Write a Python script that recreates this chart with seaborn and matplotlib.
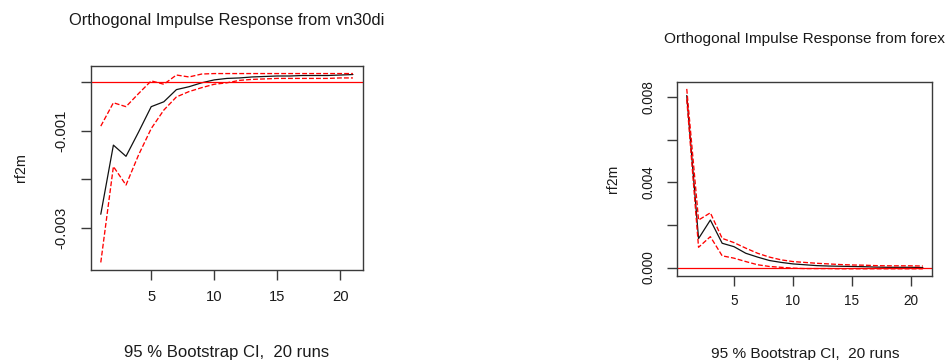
import numpy as np
import pandas as pd
import matplotlib
matplotlib.use("Agg")
import matplotlib.pyplot as plt
import seaborn as sns

# Forecast horizon (steps ahead)
horizon = list(range(1, 22))

# Response of rf2m to an orthogonal shock in vn30di
irf_vn30di = [-0.00272, -0.00130, -0.00153, -0.00103, -0.00051, -0.00041, -0.00016,
              -0.00010, -0.00002, 0.00004, 0.00007, 0.00008, 0.00010, 0.00011,
              0.00012, 0.00012, 0.00013, 0.00013, 0.00013, 0.00014, 0.00015]
upper_vn30di = [-0.00091, -0.00043, -0.00051, -0.00024, 0.00002, -0.00005, 0.00014,
                0.00010, 0.00016, 0.00017, 0.00017, 0.00017, 0.00017, 0.00017,
                0.00017, 0.00017, 0.00017, 0.00017, 0.00017, 0.00017, 0.00017]
lower_vn30di = [-0.00371, -0.00174, -0.00212, -0.00150, -0.00096, -0.00058, -0.00031,
                -0.00020, -0.00012, -0.00005, -0.00002, 0.00003, 0.00005, 0.00006,
                0.00007, 0.00007, 0.00007, 0.00007, 0.00007, 0.00008, 0.00008]

# Response of rf2m to an orthogonal shock in forex
irf_forex = [0.00808, 0.00136, 0.00223, 0.00114, 0.00098, 0.00067, 0.00049,
             0.00033, 0.00024, 0.00017, 0.00013, 0.00009, 0.00007, 0.00006,
             0.00005, 0.00004, 0.00002, 0.00001, 0.00001, 0.00001, 0.00000]
upper_forex = [0.00839, 0.00223, 0.00257, 0.00137, 0.00117, 0.00091, 0.00067,
               0.00049, 0.00036, 0.00028, 0.00024, 0.00020, 0.00017, 0.00014,
               0.00012, 0.00011, 0.00009, 0.00008, 0.00008, 0.00008, 0.00007]
lower_forex = [0.00790, 0.00095, 0.00145, 0.00055, 0.00044, 0.00028, 0.00013,
               0.00005, 0.00001, -0.00003, -0.00005, -0.00005, -0.00005, -0.00006,
               -0.00006, -0.00006, -0.00006, -0.00006, -0.00006, -0.00006, -0.00006]

xticks = [5, 10, 15, 20]
yticks_vn30di = [0.0, -0.001, -0.002, -0.003]
yticklabels_vn30di = ["", "-0.001", "", "-0.003"]
yticks_forex = [0.0, 0.002, 0.004, 0.006, 0.008]
yticklabels_forex = ["0.000", "", "0.004", "", "0.008"]

titles = ["Orthogonal Impulse Response from vn30di",
          "Orthogonal Impulse Response from forex"]
response_name = "rf2m"
ci_text = "95 % Bootstrap CI,  20 runs"

sns.set_theme(style="white")
plt.rcParams["font.family"] = ["Liberation Sans", "DejaVu Sans"]

W, H = 946, 360
fig = plt.figure(figsize=(W / 100, H / 100), dpi=100)


def px_axes(left, top, right, bottom):
    return fig.add_axes([left / W, 1 - bottom / H, (right - left) / W, (bottom - top) / H])


def draw_panel(ax, irf, upper, lower, yticks, yticklabels, scale, xpad):
    df = pd.DataFrame({"horizon": horizon, "irf": irf, "upper": upper, "lower": lower})
    sns.lineplot(data=df, x="horizon", y="irf", ax=ax, color="#111111", lw=0.9)
    for col in ["upper", "lower"]:
        sns.lineplot(data=df, x="horizon", y=col, ax=ax, color="red", lw=0.95,
                     dashes=(4.5, 3), linestyle="--")
    ax.axhline(0, color="red", lw=0.9)
    lo = min(lower + irf + upper)
    hi = max(lower + irf + upper)
    pad = 0.04 * (hi - lo)
    ax.set_ylim(lo - pad, hi + pad)
    ax.set_xlim(1 - 0.04 * 20, 21 + 0.04 * 20)
    ax.set_xticks(xticks)
    ax.set_yticks(yticks)
    ax.set_yticklabels(yticklabels)
    ax.set_xlabel("")
    ax.set_ylabel("")
    for s in ax.spines.values():
        s.set_color("#3a3a3a")
        s.set_linewidth(1.0)
    ax.tick_params(axis="both", direction="out", length=7.2, width=1.0,
                   color="#3a3a3a", labelcolor="#1a1a1a", labelsize=10.6 * scale,
                   bottom=True, left=True)
    ax.tick_params(axis="x", pad=xpad)
    ax.tick_params(axis="y", pad=9 * scale, labelrotation=90)
    for lab in ax.get_yticklabels():
        lab.set_va("center")


# Left panel: vn30di shock
ax1 = px_axes(90.7, 66, 363, 270)
draw_panel(ax1, irf_vn30di, upper_vn30di, lower_vn30di,
           yticks_vn30di, yticklabels_vn30di, 1.0, 7.0)
# Right panel: forex shock
ax2 = px_axes(677.3, 81.7, 932.3, 276)
draw_panel(ax2, irf_forex, upper_forex, lower_forex,
           yticks_forex, yticklabels_forex, 0.93, 5.5)

# Titles, response labels and CI notes
fig.text(226.8 / W, 1 - 21 / H, titles[0], ha="center", va="center",
         fontsize=11.9, color="#1a1a1a")
fig.text(804.8 / W, 1 - 39 / H, titles[1], ha="center", va="center",
         fontsize=11.1, color="#1a1a1a")
fig.text(21 / W, 1 - 168 / H, response_name, ha="center", va="center",
         rotation=90, fontsize=10.4, color="#1a1a1a")
fig.text(613 / W, 1 - 179 / H, response_name, ha="center", va="center",
         rotation=90, fontsize=10.0, color="#1a1a1a")
fig.text(226.8 / W, 1 - 352 / H, ci_text, ha="center", va="center",
         fontsize=12.0, color="#1a1a1a")
fig.text(804.8 / W, 1 - 354 / H, ci_text, ha="center", va="center",
         fontsize=11.1, color="#1a1a1a")

fig.savefig("out.png", dpi=100, facecolor="white")
